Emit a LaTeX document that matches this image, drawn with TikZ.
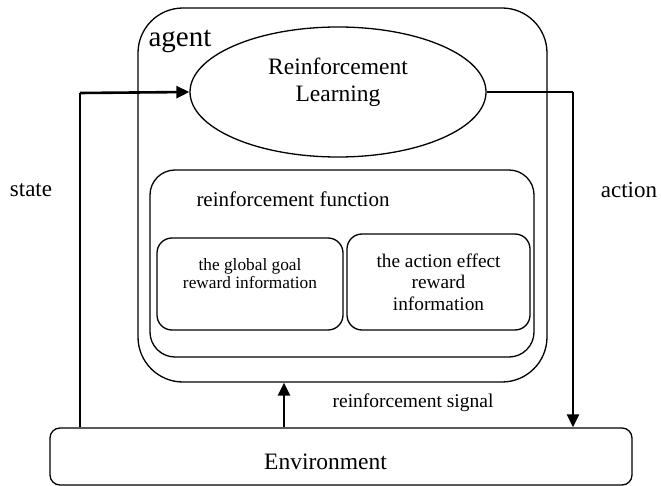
\documentclass[tikz,border=0pt]{standalone}
\usepackage{fontspec}
\setmainfont{Liberation Serif}
\usetikzlibrary{arrows.meta,shapes.geometric}
\newcommand{\fsz}[2]{\fontsize{#1}{#2}\selectfont}
\tikzset{
  box/.style={draw, rounded corners=#1, line width=1.3pt, inner sep=0pt},
  box/.default=15pt,
  flow/.style={line width=1.2pt},
  flowhead/.style={line width=2.6pt, -{Triangle[length=13pt,width=12pt]}},
}
\begin{document}
\begin{tikzpicture}[x=1pt, y=-1pt, line join=round]
  \useasboundingbox (0,0) rectangle (661,486);
  % Rahmen des Agenten
  \node[box=45pt, minimum width=409pt, minimum height=374pt] (agent) at (342.5,195) {};
  \node[anchor=west, font=\fsz{29}{32}] (agentlbl) at (145,41) {agent};

  % Lernmodul
  \node[draw, ellipse, line width=1.3pt, minimum width=296pt, minimum height=130pt] (rl) at (338,92) {};
  \node[align=center, font=\fsz{23.5}{27}] (rllbl) at (338,82) {Reinforcement\\Learning};

  % Verstaerkungsfunktion mit zwei Teilen
  \node[box=25pt, minimum width=384pt, minimum height=187pt] (rf) at (342,263.5) {};
  \node[font=\fsz{21}{24}] (rflbl) at (293,199) {reinforcement function};
  \node[box=15pt, minimum width=186pt, minimum height=92pt] (goal) at (250,284) {};
  \node[align=center, font=\fsz{17.3}{18}] (goaltxt) at ([yshift=10pt]goal.center)
    {the global goal\\reward information};
  \node[box=15pt, minimum width=183pt, minimum height=96pt, align=center,
        font=\fsz{19.3}{21.5}] (effect) at (438.5,282)
    {the action effect\\reward\\information};

  % Umgebung
  \node[box=10pt, minimum width=582pt, minimum height=57pt] (env) at (341,456.5) {};
  \node[font=\fsz{23.5}{26}] (envlbl) at (325.5,462) {Environment};

  % Verbindungen
  \coordinate (sturn) at (80,93);
  \coordinate (aturn) at (573,92);
  \coordinate (sig) at (284,0);
  \draw[flow] (sturn |- env.north) -- (sturn);
  \draw[flowhead] (sturn) -- (rl.west);
  \draw[flow] (rl.east) -- (aturn);
  \draw[flowhead] (aturn) -- (aturn |- env.north);
  \draw[flowhead] (sig |- env.north) -- (sig |- agent.south);

  % Beschriftungen
  \node[font=\fsz{23}{26}] (state) at (31,190) {state};
  \node[font=\fsz{23}{26}] (action) at (629,190) {action};
  \node[font=\fsz{19.5}{22}] (signal) at (413,403) {reinforcement signal};
\end{tikzpicture}
\end{document}
